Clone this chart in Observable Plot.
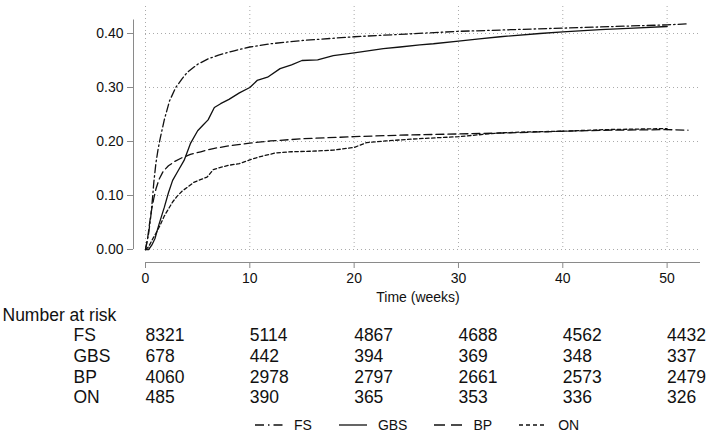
<!DOCTYPE html>
<html><head><meta charset="utf-8">
<script src="https://cdn.jsdelivr.net/npm/d3@7"></script>
<script src="https://cdn.jsdelivr.net/npm/@observablehq/plot@0.6"></script>
<style>
body{margin:0;background:#fff;font-family:"Liberation Sans",Arial,sans-serif;}
#wrap{position:relative;width:709px;height:435px;overflow:hidden;}
#legend{position:absolute;left:255px;top:414px;height:22px;display:flex;align-items:center;font-size:14px;color:#111;}
.item{display:flex;align-items:center;margin-right:27px;}
.item svg{margin-right:11px;}
</style></head><body><div id="wrap"></div>
<script>
// x ticks and y ticks
const ticksX = [0, 10, 20, 30, 40, 50];
const ticksY = [0, 0.1, 0.2, 0.3, 0.4];
const groups = ["FS", "GBS", "BP", "ON"];

// Number at risk at each x tick
const riskFS  = [8321, 5114, 4867, 4688, 4562, 4432];
const riskGBS = [678, 442, 394, 369, 348, 337];
const riskBP  = [4060, 2978, 2797, 2661, 2573, 2479];
const riskON  = [485, 390, 365, 353, 336, 326];

// Cumulative incidence curves (time in weeks, value)
const fsT = [0, 0.15, 0.3, 0.5, 0.65, 0.8, 1.0, 1.2, 1.4, 1.8, 2.3, 2.9, 3.5, 4.0, 5.0, 6.0, 7.0, 8.5, 10, 12, 15, 20, 25, 30, 35, 40, 45, 50, 52];
const fsV = [0, 0.015, 0.03, 0.06, 0.09, 0.125, 0.16, 0.185, 0.205, 0.24, 0.275, 0.30, 0.316, 0.328, 0.343, 0.353, 0.36, 0.368, 0.375, 0.381, 0.387, 0.394, 0.399, 0.404, 0.407, 0.41, 0.413, 0.416, 0.418];

const gbsT = [0, 0.3, 0.6, 0.9, 1.3, 1.8, 2.2, 2.6, 3.1, 3.7, 4.3, 5.0, 5.5, 6.0, 6.6, 7.2, 8, 9, 10, 10.7, 11.7, 12.9, 14, 15, 16.5, 18, 20, 22.8, 24.4, 26.3, 27.6, 30, 32, 34, 37.8, 40, 43.6, 46.8, 50];
const gbsV = [0, 0, 0.008, 0.02, 0.047, 0.078, 0.105, 0.128, 0.145, 0.165, 0.196, 0.22, 0.23, 0.24, 0.263, 0.27, 0.278, 0.29, 0.30, 0.313, 0.319, 0.335, 0.342, 0.35, 0.351, 0.359, 0.364, 0.372, 0.375, 0.379, 0.381, 0.386, 0.39, 0.394, 0.40, 0.403, 0.407, 0.41, 0.413];

const bpT = [0, 0.2, 0.4, 0.6, 0.8, 1.0, 1.3, 1.7, 2.2, 2.8, 3.5, 4.3, 5.3, 6.5, 8, 10, 12, 15, 20, 25, 30, 35, 40, 45, 50, 52];
const bpV = [0, 0.02, 0.05, 0.075, 0.095, 0.112, 0.13, 0.145, 0.155, 0.163, 0.17, 0.176, 0.181, 0.187, 0.192, 0.197, 0.201, 0.205, 0.209, 0.212, 0.214, 0.216, 0.219, 0.221, 0.222, 0.221];

const onT = [0, 0.3, 0.7, 1.0, 1.4, 1.8, 2.2, 2.6, 3.0, 3.5, 4.0, 4.6, 5.2, 5.9, 6.5, 7.2, 8, 9, 10, 11, 12.5, 14, 16, 18, 20, 21.2, 23, 26, 30, 34, 37, 40, 44, 47, 50];
const onV = [0, 0.005, 0.02, 0.03, 0.045, 0.062, 0.075, 0.088, 0.098, 0.108, 0.115, 0.124, 0.129, 0.134, 0.148, 0.152, 0.156, 0.159, 0.166, 0.172, 0.179, 0.181, 0.182, 0.184, 0.189, 0.198, 0.201, 0.205, 0.209, 0.216, 0.218, 0.219, 0.222, 0.223, 0.224];

const series = [
  {name: "FS",  t: fsT,  v: fsV,  risk: riskFS,  dash: "8,3,1.5,3", legendDash: "9,4,1.5,4"},
  {name: "GBS", t: gbsT, v: gbsV, risk: riskGBS, dash: null,        legendDash: null},
  {name: "BP",  t: bpT,  v: bpV,  risk: riskBP,  dash: "8,4",       legendDash: "11,6"},
  {name: "ON",  t: onT,  v: onV,  risk: riskON,  dash: "3.5,2.5",   legendDash: "4,3"}
];

const ink = "#111";
const axisGray = "#8a8a8a";
const rowDy = [91, 112, 133, 153];

const marks = [
  Plot.gridX(ticksX, {stroke: "#aaa", strokeOpacity: 1, strokeDasharray: "1,3"}),
  Plot.gridY(ticksY, {stroke: "#aaa", strokeOpacity: 1, strokeDasharray: "1,3"}),
  Plot.ruleX([0], {y1: 0, y2: 0.425, dx: -12, stroke: axisGray}),
  Plot.ruleY([0], {x1: 0, x2: 53.2, dy: 13, stroke: axisGray}),
  Plot.axisY(ticksY, {tickFormat: d3.format(".2f"), tickSize: 6, tickPadding: 4, dx: -12, fontSize: 14, stroke: axisGray, fill: ink, label: null}),
  Plot.axisX(ticksX, {tickSize: 6, tickPadding: 5, dy: 13, fontSize: 14, stroke: axisGray, fill: ink, label: null}),
  Plot.text(["Time (weeks)"], {text: d => d, frameAnchor: "bottom", dx: -5, dy: 52, fontSize: 14, fill: ink}),
  Plot.text(["Number at risk"], {text: d => d, frameAnchor: "bottom-left", dx: -143, dy: 71, textAnchor: "start", fontSize: 17.5, fill: ink})
];

series.forEach((s, i) => {
  const data = s.t.map((t, j) => ({time: t, value: s.v[j]}));
  marks.push(Plot.line(data, {x: "time", y: "value", curve: "linear", stroke: ink, strokeWidth: 1.3, strokeDasharray: s.dash || undefined}));
  const rows = ticksX.map((t, j) => ({time: t, n: s.risk[j]}));
  marks.push(Plot.text(rows, {x: "time", text: d => String(d.n), frameAnchor: "bottom", dy: rowDy[i], textAnchor: "start", fontSize: 17.5, fill: ink}));
  marks.push(Plot.text([s.name], {text: d => d, frameAnchor: "bottom-left", dx: -72, dy: rowDy[i], textAnchor: "start", fontSize: 17.5, fill: ink}));
});

const chart = Plot.plot({
  width: 709,
  height: 412,
  marginTop: 6,
  marginBottom: 163,
  marginLeft: 145,
  marginRight: 9,
  x: {domain: [0, 53.2], label: null},
  y: {domain: [0, 0.45], label: null},
  style: {fontFamily: "'Liberation Sans', Arial, sans-serif", background: "#fff", color: ink},
  marks
});

const wrap = document.getElementById("wrap");
wrap.appendChild(chart);

// Legend
const legend = document.createElement("div");
legend.id = "legend";
series.forEach(s => {
  const item = document.createElement("div");
  item.className = "item";
  const ns = "http://www.w3.org/2000/svg";
  const sw = document.createElementNS(ns, "svg");
  sw.setAttribute("width", 28); sw.setAttribute("height", 10);
  const ln = document.createElementNS(ns, "line");
  ln.setAttribute("x1", 0); ln.setAttribute("x2", 28); ln.setAttribute("y1", 5); ln.setAttribute("y2", 5);
  ln.setAttribute("stroke", ink); ln.setAttribute("stroke-width", 1.3);
  if (s.legendDash) ln.setAttribute("stroke-dasharray", s.legendDash);
  sw.appendChild(ln);
  const label = document.createElement("span");
  label.textContent = s.name;
  item.appendChild(sw); item.appendChild(label);
  legend.appendChild(item);
});
wrap.appendChild(legend);
</script>
</body></html>
